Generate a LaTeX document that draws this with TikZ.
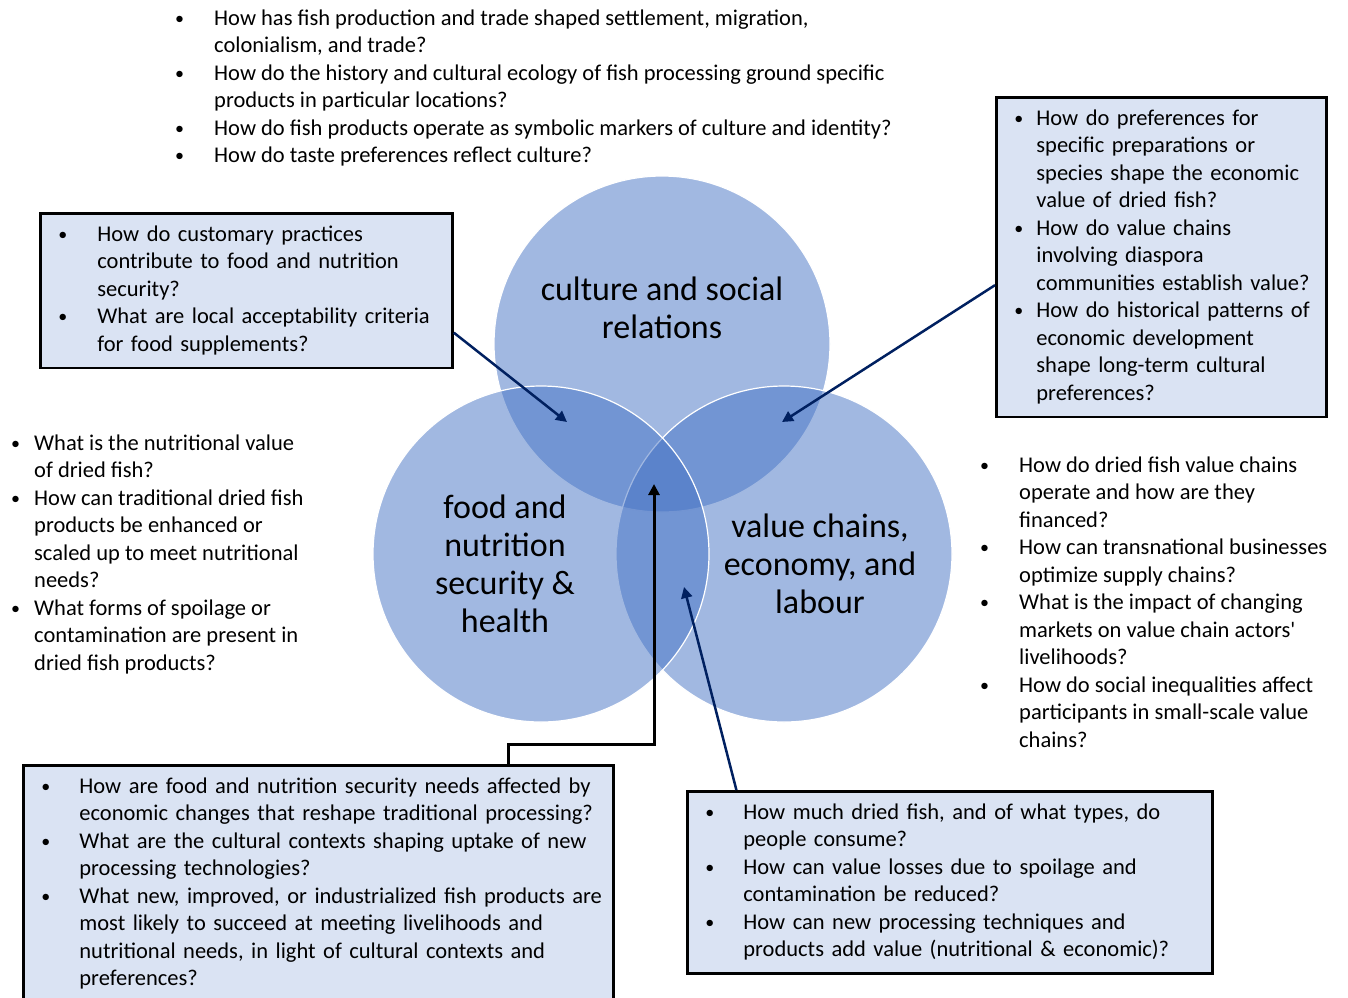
\documentclass[tikz,border=0pt]{standalone}
\usepackage{fontspec}
\setmainfont{Carlito}
\usetikzlibrary{arrows.meta}

\definecolor{vennblue}{HTML}{4472C4}
\definecolor{qfill}{HTML}{DAE3F3}
\definecolor{navy}{HTML}{002060}

\newlength\bgap
\newcommand\dotb{\raisebox{1pt}{\fontsize{18}{18}\selectfont\textbullet}}
\newcommand\itm[1]{\mbox{\strut\makebox[\bgap][l]{\dotb}#1}}
\newcommand\cnt[1]{\mbox{\strut\hspace*{\bgap}#1}}

\begin{document}
\begin{tikzpicture}[x=1pt, y=-1pt,
    qfont/.style={font=\fontsize{22.5}{27.5}\selectfont},
    bgap/.code={\setlength\bgap{#1}},
    qtext/.style={qfont, anchor=north west, inner sep=0pt, align=left},
    qbox/.style={qfont, anchor=north west, draw, line width=2.8pt, fill=qfill,
        inner xsep=18pt, inner ysep=8.5pt, align=left},
    venn/.style={circle, minimum size=336pt, inner sep=0pt, fill=vennblue,
        fill opacity=0.5, draw=white, line width=1.2pt},
    vlabel/.style={font=\fontsize{34}{38}\selectfont, align=center},
    qarrow/.style={draw=navy, line width=2.5pt, -{Triangle[length=11pt, width=11pt]}}]

    \useasboundingbox (0,0) rectangle (1348,997);

    \node[venn] at (662,344) (cult) {};
    \node[venn] at (784,554) (econ) {};
    \node[venn] at (541,554) (food) {};

    \node[vlabel] at (662,312) (cultlab) {\strut culture and social\\ \strut relations};
    \node[vlabel] at (505,568) (foodlab) {\strut food and\\ \strut nutrition\\ \strut security \&\\ \strut health};
    \node[vlabel] at (820,568) (econlab) {\strut value chains,\\ \strut economy, and\\ \strut labour};

    \node[qtext, bgap=39pt] at (175,6) (cultq) {%
        \itm{How has fish production and trade shaped settlement, migration,}\\
        \cnt{colonialism, and trade?}\\
        \itm{How do the history and cultural ecology of fish processing ground specific}\\
        \cnt{products in particular locations?}\\
        \itm{How do fish products operate as symbolic markers of culture and identity?}\\
        \itm{How do taste preferences reflect culture?}};

    \node[qtext, bgap=23pt] at (11,431) (foodq) {%
        \itm{What is the nutritional value}\\
        \cnt{of dried fish?}\\
        \itm{How can traditional dried fish}\\
        \cnt{products be enhanced or}\\
        \cnt{scaled up to meet nutritional}\\
        \cnt{needs?}\\
        \itm{What forms of spoilage or}\\
        \cnt{contamination are present in}\\
        \cnt{dried fish products?}};

    \node[qtext, bgap=39pt] at (980,453) (econq) {%
        \itm{How do dried fish value chains}\\
        \cnt{operate and how are they}\\
        \cnt{financed?}\\
        \itm{How can transnational businesses}\\
        \cnt{optimize supply chains?}\\
        \itm{What is the impact of changing}\\
        \cnt{markets on value chain actors\textquotesingle}\\
        \cnt{livelihoods?}\\
        \itm{How do social inequalities affect}\\
        \cnt{participants in small-scale value}\\
        \cnt{chains?}};

    \node[qbox, bgap=39pt, text width=376pt] at (39,212) (cultfoodq) {%
        \itm{How do customary practices}\\
        \cnt{contribute to food and nutrition}\\
        \cnt{security?}\\
        \itm{What are local acceptability criteria}\\
        \cnt{for food supplements?}};

    \node[qbox, bgap=22pt, text width=294pt] at (995,96) (culteconq) {%
        \itm{How do preferences for}\\
        \cnt{specific preparations or}\\
        \cnt{species shape the economic}\\
        \cnt{value of dried fish?}\\
        \itm{How do value chains}\\
        \cnt{involving diaspora}\\
        \cnt{communities establish value?}\\
        \itm{How do historical patterns of}\\
        \cnt{economic development}\\
        \cnt{shape long-term cultural}\\
        \cnt{preferences?}};

    \node[qbox, bgap=38pt, text width=554pt] at (22,764) (allq) {%
        \itm{How are food and nutrition security needs affected by}\\
        \cnt{economic changes that reshape traditional processing?}\\
        \itm{What are the cultural contexts shaping uptake of new}\\
        \cnt{processing technologies?}\\
        \itm{What new, improved, or industrialized fish products are}\\
        \cnt{most likely to succeed at meeting livelihoods and}\\
        \cnt{nutritional needs, in light of cultural contexts and}\\
        \cnt{preferences?}};

    \node[qbox, bgap=38pt, text width=489pt] at (686,790) (foodeconq) {%
        \itm{How much dried fish, and of what types, do}\\
        \cnt{people consume?}\\
        \itm{How can value losses due to spoilage and}\\
        \cnt{contamination be reduced?}\\
        \itm{How can new processing techniques and}\\
        \cnt{products add value (nutritional \& economic)?}};

    \coordinate (cftip) at (567,422);
    \coordinate (cetip) at (782,422);
    \coordinate (fetip) at (684,587);
    \coordinate (alltip) at (654,484);

    \draw[qarrow] ([yshift=-42pt]cultfoodq.east) -- (cftip);
    \draw[qarrow] ([yshift=-28pt]culteconq.west) -- (cetip);
    \draw[qarrow] ([xshift=-213.5pt]foodeconq.north) -- (fetip);
    \draw[line width=3pt, -{Triangle[length=11pt, width=11pt]}]
        ([xshift=190pt]allq.north) -- ++(0,-20) -| (alltip);

\end{tikzpicture}
\end{document}
